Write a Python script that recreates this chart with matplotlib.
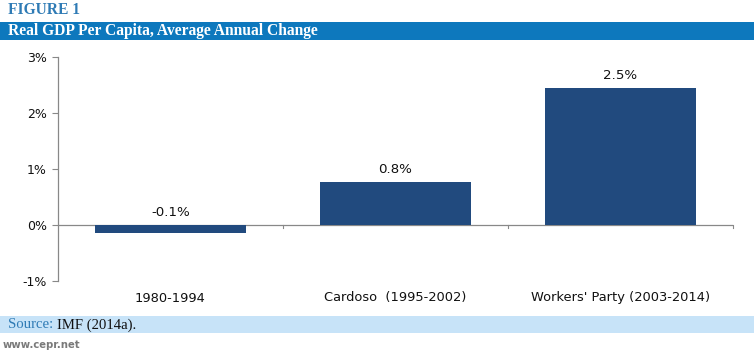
import matplotlib
matplotlib.use("Agg")
import matplotlib.pyplot as plt
from matplotlib.patches import Rectangle

categories = ["1980-1994", "Cardoso  (1995-2002)", "Workers' Party (2003-2014)"]
values = [-0.14, 0.77, 2.45]
value_labels = ["-0.1%", "0.8%", "2.5%"]
yticks = [-1, 0, 1, 2, 3]
ytick_labels = ["-1%", "0%", "1%", "2%", "3%"]

W, H = 754, 354
fig = plt.figure(figsize=(W / 100, H / 100), dpi=100)
fig.patch.set_facecolor("white")

def fx(px):
    return px / W

def fy(py):
    return 1 - py / H

# Header
fig.text(fx(8), fy(10), "FIGURE 1", family="Liberation Serif", weight="bold",
         fontsize=11.2, color="#2f7bb5", va="center", ha="left")
fig.patches.append(Rectangle((fx(0), fy(40)), 1.0, (40 - 22) / H,
                             transform=fig.transFigure, facecolor="#0d78bd",
                             edgecolor="none", zorder=0))
fig.text(fx(8), fy(31), "Real GDP Per Capita, Average Annual Change",
         family="Liberation Serif", weight="bold", fontsize=11.2, color="white",
         va="center", ha="left")

# Source band
fig.patches.append(Rectangle((fx(0), fy(333)), 1.0, (333 - 316) / H,
                             transform=fig.transFigure, facecolor="#c7e3f8",
                             edgecolor="none", zorder=0))
t1 = fig.text(fx(8), fy(325), "Source: ", family="Liberation Serif", fontsize=10.6,
              color="#2f7bb5", va="center", ha="left")
fig.canvas.draw()
bb = t1.get_window_extent()
fig.text(bb.x1 / W, fy(325), "IMF (2014a).", family="Liberation Serif", fontsize=10.6,
         color="#111111", va="center", ha="left")
fig.text(fx(3), fy(345), "www.cepr.net", family="DejaVu Sans", fontsize=7.3,
         weight="bold", color="#7a7a7a", va="center", ha="left")

# Axes
left, right, top, bottom = 58, 733, 57, 281
ax = fig.add_axes([fx(left), fy(bottom), (right - left) / W, (bottom - top) / H])
ax.set_facecolor("none")
x = list(range(len(categories)))
ax.bar(x, values, width=0.667, color="#214a7e", edgecolor="none", zorder=2)
ax.set_xlim(-0.5, len(categories) - 0.5)
ax.set_ylim(-1, 3)
ax.set_yticks(yticks)
ax.set_yticklabels(ytick_labels, fontsize=9, color="#111111")
ax.tick_params(axis="y", length=4, width=0.8, color="#888888", pad=4)
ax.set_xticks([])
for s in ["top", "right", "bottom"]:
    ax.spines[s].set_visible(False)
ax.spines["left"].set_color("#888888")
ax.spines["left"].set_linewidth(0.9)
ax.axhline(0, color="#888888", lw=0.9, zorder=1)
for b in range(1, len(categories) + 1):
    ax.plot([b - 0.5, b - 0.5], [0, -0.06], color="#888888", lw=0.8,
            clip_on=False, zorder=1)

for xi, v, lab in zip(x, values, value_labels):
    ax.annotate(lab, (xi, max(v, 0)), xytext=(0, 4), textcoords="offset points",
                ha="center", va="bottom", fontsize=9.6, color="#111111")

label_y = -1 - (298 - bottom) / (bottom - top) * 4
for xi, c in zip(x, categories):
    ax.text(xi, label_y, c, ha="center", va="center",
            fontsize=9.4, color="#111111", clip_on=False)

fig.savefig("out.png", dpi=100)
